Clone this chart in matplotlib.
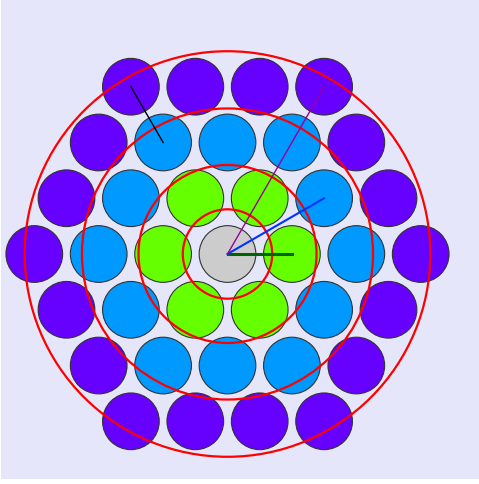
import numpy as np
import matplotlib
matplotlib.use("Agg")
import matplotlib.pyplot as plt
from matplotlib.patches import Circle

# --- data ---
ring_index = [0, 1, 2, 3]
ring_colors = ["#cccccc", "#66ff00", "#0099ff", "#6600ff"]
ball_radius = 0.44
red_radii = [0.694, 1.382, 2.26, 3.149]
# segments given as lattice (axial q, r) endpoints
seg_from = [(0, 0), (0, 0), (0, 0), (-3, 3)]
seg_to = [(1, 0), (1, 1), (0, 3), (-2, 2)]
seg_colors = ["#006400", "#0033ff", "#990099", "#000000"]
seg_widths = [2.2, 1.5, 1.0, 1.0]


def axial_to_xy(q, r):
    return q + 0.5 * r, r * np.sqrt(3) / 2


def hex_dist(q, r):
    return max(abs(q), abs(r), abs(q + r))


fig = plt.figure(figsize=(4.79, 4.85), dpi=100)
ax = fig.add_axes([1 / 479, 5 / 485, 478 / 479, 480 / 485])
ax.set_facecolor("#e6e6fa")

N = max(ring_index)
for q in range(-N, N + 1):
    for r in range(-N, N + 1):
        k = hex_dist(q, r)
        if k <= N:
            x, y = axial_to_xy(q, r)
            ax.add_patch(Circle((x, y), ball_radius, facecolor=ring_colors[k],
                                edgecolor="#333333", linewidth=0.8, zorder=2))

for R in red_radii:
    ax.add_patch(Circle((0, 0), R, facecolor="none", edgecolor="#ff0000",
                        linewidth=1.6, zorder=3))

for a, b, c, w in zip(seg_from, seg_to, seg_colors, seg_widths):
    x0, y0 = axial_to_xy(*a)
    x1, y1 = axial_to_xy(*b)
    ax.plot([x0, x1], [y0, y1], color=c, linewidth=w, zorder=4)

ax.set_xlim(-3.517, 3.905)
ax.set_ylim(-3.494, 3.960)
ax.set_xticks([])
ax.set_yticks([])
for s in ax.spines.values():
    s.set_visible(False)

fig.savefig("out.png", dpi=100, facecolor="white")
